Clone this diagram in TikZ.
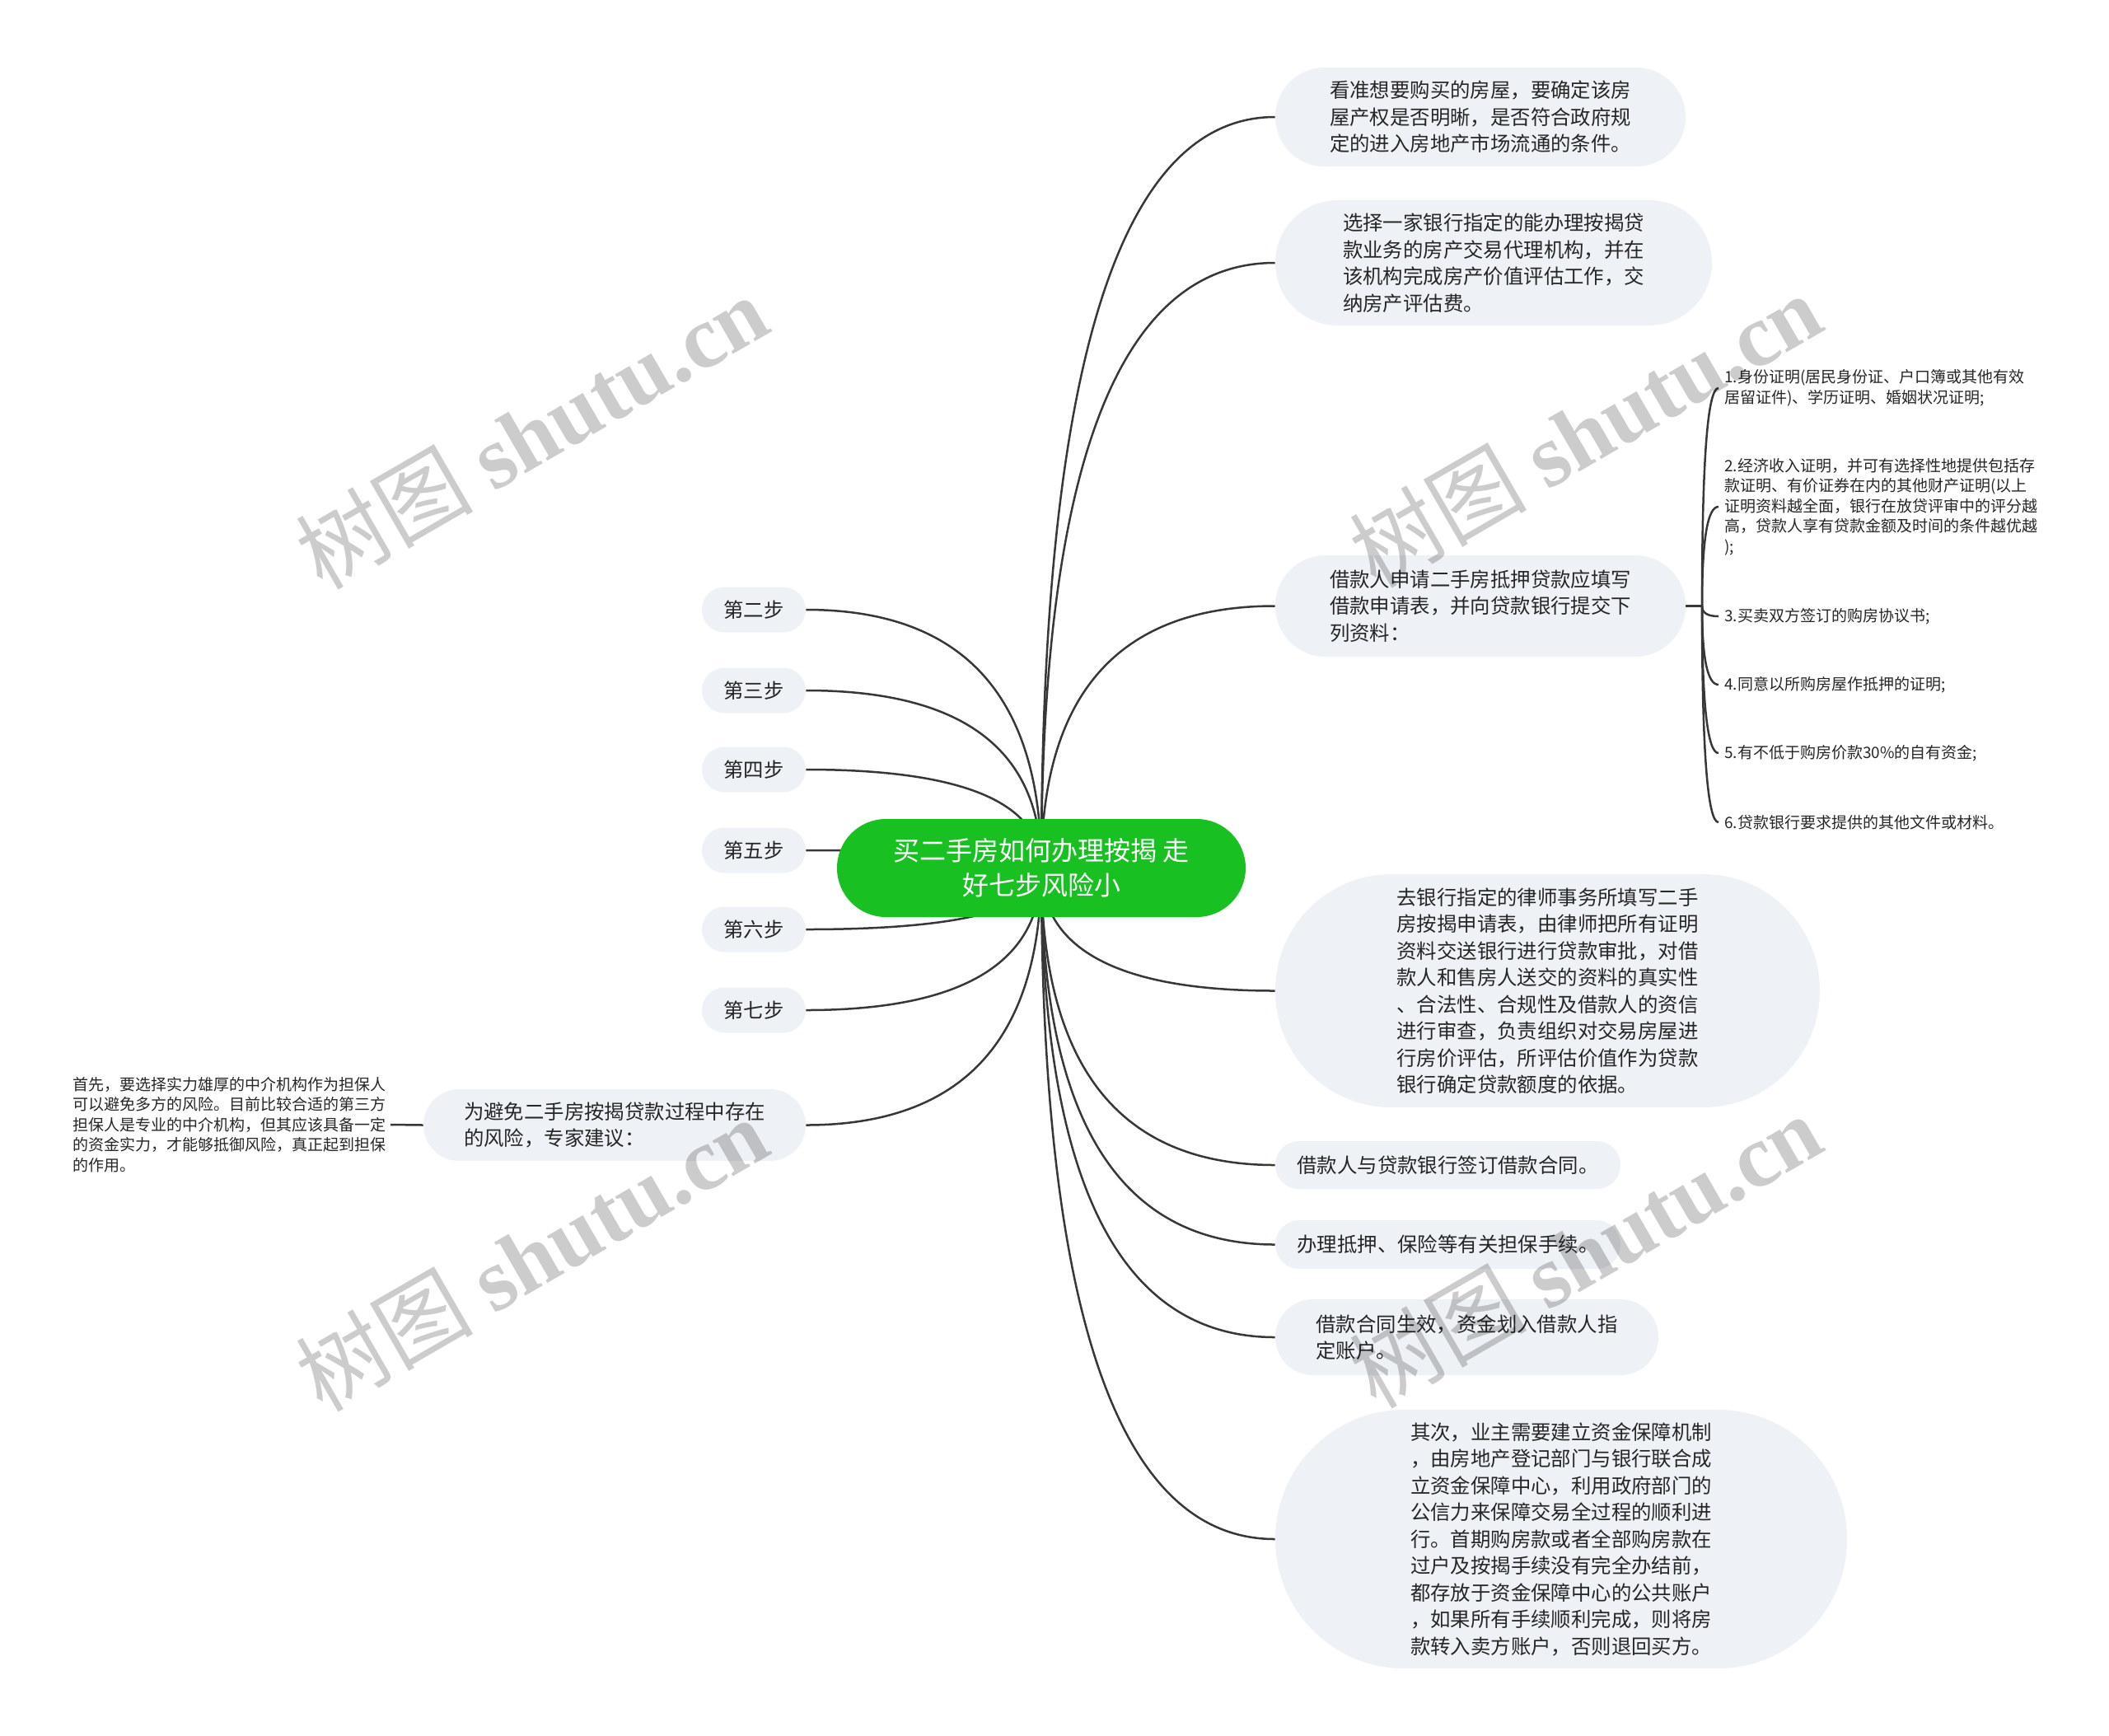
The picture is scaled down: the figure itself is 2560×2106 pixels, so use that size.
\documentclass[tikz,border=0pt]{standalone}
\usepackage{fontspec}
\setmainfont{Noto Sans CJK SC}
\newfontfamily\wmlatin{Liberation Serif}
\usetikzlibrary{calc}
\pgfdeclarelayer{background}
\pgfsetlayers{background,main}
\definecolor{pillfill}{RGB}{238,241,245}
\definecolor{rootgreen}{RGB}{24,192,34}
\definecolor{linecol}{RGB}{55,55,55}
\definecolor{txt}{RGB}{38,38,38}
\newcommand\lvlfont{\fontsize{12.2pt}{16.25pt}\selectfont}
\newcommand\smallfont{\fontsize{9.5pt}{12.25pt}\selectfont}
\newcommand\rootfont{\fontsize{16pt}{21pt}\selectfont}
\newcommand\wmfont{\fontsize{54pt}{60pt}\selectfont}
\begin{document}
\begin{tikzpicture}[x=0.5pt,y=-0.5pt,
  pillbox/.style n args={3}{fill=pillfill, text=txt, font=\lvlfont, align=left, inner sep=0pt,
     minimum width=#1pt, minimum height=#2pt, rounded corners=#3pt},
  rootnode/.style={fill=rootgreen, text=white, font=\rootfont, align=center, inner sep=0pt,
     minimum width=248pt, minimum height=59.5pt, rounded corners=29.7pt},
  itemtext/.style={text=txt, font=\smallfont, align=left, anchor=west, inner xsep=3.5pt, inner ysep=0pt},
  sidetext/.style={text=txt, font=\smallfont, align=left, anchor=east, inner xsep=2.5pt, inner ysep=0pt},
  conn/.style={draw=linecol, line width=1.25pt},
  wmark/.style={text=black, text opacity=0.2, rotate=30, inner sep=0pt}
]
\useasboundingbox (0,0) rectangle (2560,2106);

% root
\node[rootnode] (root) at (1264,1053.5) {买二手房如何办理按揭 走\\好七步风险小};

% left steps
\node[pillbox={63}{27.5}{13.7}] (st2) at (915,740) {第二步};
\node[pillbox={63}{27.5}{13.7}] (st3) at (915,838) {第三步};
\node[pillbox={63}{27.5}{13.7}] (st4) at (915,934) {第四步};
\node[pillbox={63}{27.5}{13.7}] (st5) at (915,1032) {第五步};
\node[pillbox={63}{27.5}{13.7}] (st6) at (915,1128) {第六步};
\node[pillbox={63}{27.5}{13.7}] (st7) at (915,1226) {第七步};

\node[pillbox={232}{43.5}{21.7}] (adv) at (746,1365.5) {为避免二手房按揭贷款过程中存在\\的风险，专家建议：};
\node[sidetext] (advtext) at (474,1365) {首先，要选择实力雄厚的中介机构作为担保人\\可以避免多方的风险。目前比较合适的第三方\\担保人是专业的中介机构，但其应该具备一定\\的资金实力，才能够抵御风险，真正起到担保\\的作用。};

% right nodes
\node[pillbox={249}{60}{29.9}] (n1) at (1797,142) {看准想要购买的房屋，要确定该房\\屋产权是否明晰，是否符合政府规\\定的进入房地产市场流通的条件。};
\node[pillbox={265}{76}{37.9}] (n2) at (1813,319) {选择一家银行指定的能办理按揭贷\\款业务的房产交易代理机构，并在\\该机构完成房产价值评估工作，交\\纳房产评估费。};
\node[pillbox={249}{61.5}{30.6}] (n3) at (1797,735.5) {借款人申请二手房抵押贷款应填写\\借款申请表，并向贷款银行提交下\\列资料：};
\node[pillbox={330.5}{141.5}{70.6}] (n4) at (1878.5,1202.5) {去银行指定的律师事务所填写二手\\房按揭申请表，由律师把所有证明\\资料交送银行进行贷款审批，对借\\款人和售房人送交的资料的真实性\\、合法性、合规性及借款人的资信\\进行审查，负责组织对交易房屋进\\行房价评估，所评估价值作为贷款\\银行确定贷款额度的依据。};
\node[pillbox={209.5}{29}{14.4}] (n5) at (1757.5,1414) {借款人与贷款银行签订借款合同。};
\node[pillbox={209.5}{29.5}{14.7}] (n6) at (1757.5,1510.5) {办理抵押、保险等有关担保手续。};
\node[pillbox={232.5}{46}{22.9}] (n7) at (1780.5,1623) {借款合同生效，资金划入借款人指\\定账户。};
\node[pillbox={347}{157}{78.4}] (n8) at (1895,1868) {其次，业主需要建立资金保障机制\\，由房地产登记部门与银行联合成\\立资金保障中心，利用政府部门的\\公信力来保障交易全过程的顺利进\\行。首期购房款或者全部购房款在\\过户及按揭手续没有完全办结前，\\都存放于资金保障中心的公共账户\\，如果所有手续顺利完成，则将房\\款转入卖方账户，否则退回买方。};

% sub items of n3
\coordinate (hub) at (2066,735.5);
\node[itemtext] (i1) at (2086,471) {1.身份证明(居民身份证、户口簿或其他有效\\居留证件)、学历证明、婚姻状况证明;};
\node[itemtext] (i2) at (2086,615) {2.经济收入证明，并可有选择性地提供包括存\\款证明、有价证券在内的其他财产证明(以上\\证明资料越全面，银行在放贷评审中的评分越\\高，贷款人享有贷款金额及时间的条件越优越\\);};
\node[itemtext] (i3) at (2086,748) {3.买卖双方签订的购房协议书;};
\node[itemtext] (i4) at (2086,831) {4.同意以所购房屋作抵押的证明;};
\node[itemtext] (i5) at (2086,914) {5.有不低于购房价款30\%的自有资金;};
\node[itemtext] (i6) at (2086,998) {6.贷款银行要求提供的其他文件或材料。};

% background and connectors
\begin{pgfonlayer}{background}
\fill[white] (0,0) rectangle (2560,2106);
\foreach \c in {n1,n2,n3,n4,n5,n6,n7,n8}
  \draw[conn] (root.center) .. controls ($(root.center)!0.6667!(root.center|-\c.west)$)
     and ($(\c.west)!0.6667!(root.center|-\c.west)$) .. (\c.west);
\foreach \c in {st2,st3,st4,st5,st6,st7,adv}
  \draw[conn] (root.center) .. controls ($(root.center)!0.6667!(root.center|-\c.east)$)
     and ($(\c.east)!0.6667!(root.center|-\c.east)$) .. (\c.east);
\draw[conn] (adv.west) -- (advtext.east);
\draw[conn] (n3.east) -- (hub);
\foreach \c in {i1,i2,i3,i4,i5,i6}
  \draw[conn] (hub) .. controls ($(hub)!0.6667!(hub|-\c.west)$)
     and ($(\c.west)!0.6667!(hub|-\c.west)$) .. (\c.west);
\end{pgfonlayer}

% watermarks
\node[wmark] (wm1) at (645,524) {\wmfont 树图 {\wmlatin\bfseries shutu.cn}};
\node[wmark] (wm2) at (1924,522) {\wmfont 树图 {\wmlatin\bfseries shutu.cn}};
\node[wmark] (wm3) at (645,1522) {\wmfont 树图 {\wmlatin\bfseries shutu.cn}};
\node[wmark] (wm4) at (1924,1518) {\wmfont 树图 {\wmlatin\bfseries shutu.cn}};
\end{tikzpicture}
\end{document}
